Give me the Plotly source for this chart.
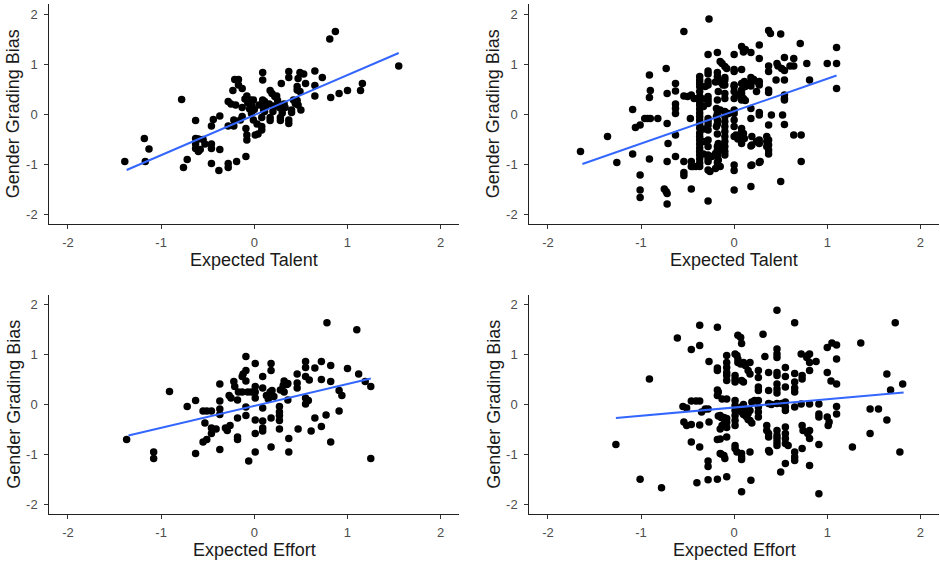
import plotly.graph_objects as go

# ---------------- data ----------------
tick_vals = [-2, -1, 0, 1, 2]
tick_text = ["-2", "-1", "0", "1", "2"]
x_titles = ["Expected Talent", "Expected Talent", "Expected Effort", "Expected Effort"]
y_title = "Gender Grading Bias"

# Panel 1: Expected Talent (left)
p1 = [(-1.39,-0.95),(-1.18,-0.49),(-1.13,-0.70),(-1.17,-0.95),(-0.78,0.29),(-0.76,-1.07),(-0.72,-0.91),(-0.63,-0.13),
      (-0.63,-0.49),(-0.63,-0.60),(-0.63,-0.69),(-0.60,-0.75),(-0.55,-0.51),(-0.53,-0.60),(-0.46,-0.60),(-0.46,-0.69),(-0.58,-0.71),(-0.60,-0.50),
      (-0.44,-0.11),(-0.37,-0.04),(-0.46,-0.24),(-0.37,-0.71),(-0.46,-0.99),(-0.38,-1.13),(-0.28,-0.99),(-0.28,-1.07),(-0.19,-0.95),(-0.09,-0.85),
      (-0.21,0.69),(-0.17,0.69),(-0.17,0.58),(-0.13,0.51),(-0.28,0.25),(-0.23,0.47),(-0.25,0.20),(-0.20,0.18),
      (-0.08,0.36),(-0.04,0.28),(-0.13,0.13),(-0.10,0.30),(-0.07,0.22),(-0.03,0.18),
      (-0.22,-0.12),(-0.22,-0.24),(-0.28,-0.24),(-0.15,-0.12),(-0.13,-0.05),(-0.09,-0.29),(-0.08,-0.42),(-0.08,-0.52),
      (-0.01,-0.12),(0.01,-0.42),(0.04,-0.40),(0.08,-0.25),(0.08,-0.32),(0.09,0.83),(0.09,0.68),(0.09,0.28),(0.11,0.25),
      (0.10,0.08),(0.11,0.05),(0.08,-0.07),(-0.01,0.28),(0.00,0.09),(-0.03,0.01),(0.03,-0.20),
      (0.17,0.47),(0.19,0.41),(0.22,0.35),(0.24,0.36),(0.17,-0.07),(0.17,-0.13),(0.28,-0.07),(0.28,-0.13),(0.29,0.61),
      (0.27,0.13),(0.29,0.11),(0.33,0.13),(0.16,0.20),(0.21,0.16),
      (0.37,0.85),(0.37,0.73),(0.37,-0.12),(0.37,-0.19),(0.40,0.08),(0.42,0.28),(0.44,0.21),(0.46,0.27),(0.47,0.18),
      (0.46,0.55),(0.46,0.48),(0.47,0.71),(0.49,0.83),(0.53,0.80),(0.55,0.61),(0.49,0.45),(0.50,0.08),(0.40,0.03),
      (0.65,0.86),(0.65,0.57),(0.65,0.36),(0.73,0.73),(0.81,1.50),(0.87,1.65),(0.82,0.33),(0.91,0.41),(1.00,0.47),
      (1.14,0.47),(1.16,0.61),(1.55,0.96),
      (0.12,0.15),(0.20,0.05),(0.05,0.18),(-0.05,0.10),(0.32,0.20),(0.30,0.02),(0.25,0.27)]
talent_a_x = [p[0] for p in p1]
talent_a_y = [p[1] for p in p1]

# Panel 2: Expected Talent (right)
p2 = [(-1.65,-0.75),(-1.36,-0.45),(-1.26,-0.97),(-1.09,0.09),(-1.09,-0.80),(-1.06,-0.27),(-1.01,-0.22),(-1.01,-1.22),(-1.01,-1.52),(-1.01,-1.67),
      (-0.96,-0.09),(-0.93,-0.09),(-0.90,-0.09),(-0.91,0.78),(-0.90,0.47),(-0.91,0.33),(-0.91,-0.90),(-0.82,-0.09),
      (-0.73,0.91),(-0.72,0.41),(-0.72,-0.19),(-0.71,-0.59),(-0.72,-0.95),(-0.75,-1.50),(-0.73,-1.55),(-0.72,-1.59),(-0.72,-1.80),
      (-0.63,0.61),(-0.63,0.46),(-0.63,0.20),(-0.63,0.11),(-0.63,0.01),(-0.63,-0.42),(-0.63,-0.85),
      (-0.54,1.65),(-0.54,0.36),(-0.50,0.35),(-0.54,-0.95),(-0.54,-1.17),(-0.54,-1.23),(-0.46,-1.50),
      (-0.47,-0.09),(-0.46,0.38),(-0.43,0.31),(-0.46,-0.95),(-0.46,-1.05),(-0.44,-1.05),(-0.41,-1.05),
      # dense column near -0.37
      (-0.37,0.75),(-0.37,0.68),(-0.37,0.62),(-0.37,0.55),(-0.37,0.45),(-0.37,0.35),(-0.37,0.25),(-0.37,0.18),(-0.37,0.10),
      (-0.37,0.02),(-0.37,-0.05),(-0.37,-0.12),(-0.37,-0.20),(-0.37,-0.28),(-0.37,-0.38),(-0.37,-0.45),(-0.37,-0.52),
      (-0.37,-0.60),(-0.37,-0.68),(-0.37,-0.75),(-0.37,-0.82),(-0.37,-0.90),(-0.37,-0.98),(-0.37,-1.05),
      (-0.33,0.30),(-0.33,0.15),(-0.33,-0.30),(-0.33,-0.55),(-0.33,-0.80),(-0.31,0.55),
      # column near -0.28
      (-0.27,1.90),(-0.28,1.19),(-0.28,0.86),(-0.28,0.80),(-0.28,0.65),(-0.28,0.58),(-0.28,0.35),(-0.28,0.28),(-0.28,0.21),
      (-0.28,-0.09),(-0.28,-0.15),(-0.28,-0.22),(-0.28,-0.32),(-0.28,-0.52),(-0.28,-0.65),(-0.28,-0.82),(-0.28,-0.89),
      (-0.28,-0.95),(-0.28,-1.12),(-0.26,-1.15),(-0.28,-1.74),
      # column near -0.18
      (-0.18,1.23),(-0.18,0.83),(-0.18,0.75),(-0.17,0.68),(-0.17,0.45),(-0.18,0.28),(-0.18,0.01),(-0.18,-0.12),(-0.18,-0.20),
      (-0.18,-0.40),(-0.18,-0.65),(-0.18,-0.72),(-0.18,-0.79),(-0.18,-0.85),(-0.18,-0.97),(-0.18,-1.05),(-0.20,-1.09),
      # column near -0.1
      (-0.13,1.01),(-0.10,0.95),(-0.08,0.91),(-0.10,0.73),(-0.10,0.68),(-0.10,0.58),(-0.10,0.41),(-0.10,0.31),
      (-0.10,0.05),(-0.10,-0.05),(-0.10,-0.15),(-0.10,-0.25),(-0.10,-0.35),(-0.10,-0.45),(-0.10,-0.55),(-0.10,-0.65),
      (-0.10,-0.75),(-0.10,-0.82),
      # column near 0
      (0.00,1.19),(0.00,0.89),(0.00,0.85),(0.00,0.58),(0.00,0.55),(0.00,0.31),(0.00,0.01),(0.00,-0.25),(0.00,-0.45),
      (0.00,-1.02),(0.00,-1.13),(0.00,-1.52),
      # column near 0.08
      (0.08,1.35),(0.10,1.28),(0.10,1.24),(0.08,0.89),(0.08,0.61),(0.08,0.48),(0.08,0.41),(0.08,0.28),
      (0.08,-0.29),(0.08,-0.35),(0.08,-0.42),(0.08,-0.59),
      # column near 0.18
      (0.18,1.23),(0.18,0.73),(0.18,0.63),(0.18,0.56),(0.18,0.11),(0.18,-0.09),(0.18,-0.64),(0.18,-1.03),(0.18,-1.45),
      # column near 0.27
      (0.27,1.38),(0.27,1.11),(0.27,0.65),(0.27,0.58),(0.27,0.03),(0.27,-0.02),(0.27,-0.52),(0.27,-0.59),(0.27,-0.97),
      # column near 0.37
      (0.37,1.67),(0.39,1.61),(0.37,0.96),(0.37,0.85),(0.37,0.48),(0.37,0.43),(0.37,-0.22),(0.37,-0.52),(0.37,-0.62),
      (0.37,-0.72),(0.37,-0.80),
      # right side
      (0.50,1.60),(0.46,1.01),(0.47,0.96),(0.51,0.91),(0.54,0.87),(0.54,1.13),(0.54,0.68),(0.54,0.38),(0.54,0.31),
      (0.54,0.28),(0.52,-0.02),(0.54,-0.21),(0.50,-1.35),
      (0.60,0.96),(0.64,0.96),(0.64,1.11),(0.64,-0.42),(0.72,-0.42),(0.72,-0.95),(0.71,1.41),(0.78,1.01),(0.81,0.68),
      (1.00,1.01),(1.10,1.33),(1.10,1.01),(1.10,0.51),
      # between columns
      (-0.20,0.64),(-0.14,0.63),(-0.12,0.58),(-0.15,1.05),(0.12,1.29),(0.11,0.65),(0.12,0.55),(0.17,0.58),
      (0.19,0.65),(0.21,0.69),(0.26,0.63),(0.24,0.45),(0.10,0.31),(0.12,0.27),(-0.19,0.11),(-0.15,0.08),
      (-0.06,0.01),(-0.19,-0.05),(-0.19,-0.25),(0.10,-0.39),(0.11,-0.49),(0.19,-0.45),(0.19,-0.62),(0.24,-0.55),
      (0.35,-0.45),(0.35,-0.55),(0.35,-0.65),(0.28,-0.95),(0.19,-1.02),(-0.24,-0.85),(-0.20,-0.79),(-0.17,-0.59),
      (-0.15,-0.65),(-0.13,-0.72),(-0.17,-0.92),(-0.15,-1.05),(0.00,0.08),(0.00,-0.12),(0.02,-0.42),(0.04,-0.50),
      (0.00,0.45),(0.03,0.38),(0.45,0.68),(0.40,-0.02)]
talent_b_x = [p[0] for p in p2]
talent_b_y = [p[1] for p in p2]

# Panel 3: Expected Effort (left)
p3 = [(-1.37,-0.70),(-1.08,-0.95),(-1.08,-1.08),(-0.91,0.26),(-0.72,-0.04),(-0.63,0.08),(-0.63,-0.98),
      (-0.55,-0.13),(-0.51,-0.13),(-0.46,-0.13),(-0.53,-0.37),(-0.46,-0.47),(-0.46,-0.58),(-0.55,-0.75),(-0.51,-0.70),
      (-0.37,0.41),(-0.37,0.07),(-0.37,-0.09),(-0.37,-0.20),(-0.37,-0.90),(-0.31,-0.47),(-0.29,-0.52),(-0.26,-0.42),
      (-0.27,0.18),(-0.25,0.13),(-0.22,0.46),(-0.21,0.36),(-0.18,0.09),(-0.17,0.25),(-0.18,-0.27),(-0.18,-0.65),(-0.18,-0.70),
      (-0.13,0.56),(-0.12,0.61),(-0.09,0.68),(-0.09,0.96),(-0.09,0.47),(-0.13,0.25),(-0.07,0.25),(-0.03,0.25),
      (-0.09,-0.05),(-0.09,-0.22),(-0.06,-1.13),
      (0.01,0.82),(0.01,0.36),(0.01,0.25),(0.01,0.13),(0.01,-0.31),(0.01,-0.58),(0.01,-0.95),
      (0.09,0.56),(0.09,0.33),(0.09,-0.07),(0.09,-0.33),(0.09,-0.47),(0.09,-0.53),
      (0.13,0.18),(0.17,0.25),(0.15,0.11),(0.18,0.82),(0.18,0.68),(0.19,0.28),(0.21,0.16),(0.18,-0.27),(0.18,-0.85),
      (0.27,-0.04),(0.27,-0.15),(0.27,-0.22),(0.27,-0.32),(0.27,-0.49),(0.28,0.29),(0.31,0.38),(0.32,0.47),(0.35,0.40),
      (0.36,0.42),(0.32,0.25),(0.36,0.09),(0.37,-0.68),(0.37,-0.95),
      (0.46,0.61),(0.46,0.43),(0.46,0.33),(0.47,-0.49),(0.55,0.86),(0.55,0.74),(0.55,0.56),(0.55,0.13),(0.58,0.08),
      (0.55,0.01),(0.59,0.49),(0.61,-0.53),(0.65,0.73),(0.65,-0.27),
      (0.72,0.86),(0.72,0.50),(0.72,-0.44),(0.78,1.64),(0.82,0.78),(0.82,0.46),(0.82,-0.75),(0.91,0.28),(0.94,0.18),
      (0.91,-0.13),(1.00,0.72),(1.10,1.50),(1.12,0.61),(1.19,0.46),(1.25,0.36),(1.25,-1.08),(0.77,-0.21),(-0.41,-0.49)]
effort_a_x = [p[0] for p in p3]
effort_a_y = [p[1] for p in p3]

# Panel 4: Expected Effort (right)
p4 = [(-1.27,-0.80),(-0.91,0.51),(-1.01,-1.50),(-0.78,-1.67),(-0.61,1.33),(-0.46,1.10),(-0.37,1.59),(-0.37,1.18),
      (-0.27,0.86),(-0.18,1.55),(-0.18,0.73),(-0.18,0.29),(-0.17,0.25),
      (-0.55,-0.04),(-0.51,-0.07),(-0.46,0.07),(-0.41,0.07),(-0.37,0.07),(-0.35,-0.15),(-0.31,-0.09),(-0.28,-0.09),
      (-0.54,-0.35),(-0.51,-0.42),(-0.46,-0.40),(-0.37,-0.41),(-0.27,-0.35),
      (-0.46,-0.75),(-0.37,-0.85),(-0.28,-1.13),(-0.28,-1.24),(-0.40,-1.57),(-0.28,-1.51),(-0.18,-1.50),(-0.18,-0.70),(-0.15,-0.98),
      (0.46,1.89),(0.65,1.64),(0.31,1.41),(0.04,1.39),(0.07,1.34),(0.08,1.22),(-0.08,0.98),(-0.18,0.68),(-0.18,0.18),
      (-0.08,0.84),(-0.08,0.74),(-0.08,0.64),(-0.08,0.58),(-0.08,0.48),
      (0.01,1.01),(0.03,0.98),(0.04,0.91),(0.04,0.84),(0.07,0.81),(0.01,0.58),(0.01,0.51),(0.01,0.45),
      (0.10,0.84),(0.12,0.78),(0.15,0.68),(0.17,0.61),(0.08,0.48),(0.10,0.45),(0.17,0.84),
      (0.26,0.68),(0.26,0.54),(0.26,0.35),(0.26,0.28),(0.33,0.96),(0.37,0.64),(0.37,0.28),
      (0.46,1.11),(0.46,1.01),(0.46,0.94),(0.46,0.64),(0.46,0.58),(0.46,0.41),(0.46,0.31),(0.46,0.23),
      (0.55,0.74),(0.55,0.56),(0.55,0.35),(0.65,0.62),(0.65,0.45),(0.65,0.33),(0.65,0.25),(0.73,0.58),(0.73,0.51),
      (0.72,1.01),(0.78,0.94),
      (-0.13,0.11),(-0.08,0.11),(-0.15,-0.22),(-0.11,-0.26),
      (0.01,0.08),(0.01,-0.02),(0.01,-0.12),(0.01,-0.22),(0.01,-0.32),(0.01,-0.42),
      (0.08,-0.05),(0.12,-0.10),(0.13,-0.14),(0.15,-0.18),(0.17,-0.12),(0.10,-0.20),(0.13,-0.24),(0.15,-0.30),
      (0.08,-0.15),(0.10,0.00),(0.06,-0.08),
      (0.19,0.05),(0.22,0.08),(0.26,0.08),(0.26,-0.05),(0.26,-0.15),(0.26,-0.25),
      (0.37,0.02),(0.40,0.00),(0.46,0.02),(0.51,0.02),(0.55,0.05),(0.55,-0.05),(0.55,-0.12),
      (0.17,-0.32),(0.19,-0.37),
      (-0.13,-0.42),(-0.15,-0.49),(-0.08,-0.65),(-0.11,-1.02),(-0.10,-1.08),(-0.08,-1.45),
      (0.01,-0.82),(0.01,-0.88),(0.03,-0.95),(0.08,-0.98),(0.08,-1.05),(0.08,-1.10),(0.08,-1.75),(0.17,-0.95),(0.18,-1.52),
      (0.35,-0.42),(0.35,-0.52),(0.37,-0.58),(0.37,-0.65),(0.37,-0.92),(0.38,-0.95),
      (0.46,-0.52),(0.46,-0.62),(0.46,-0.68),(0.46,-0.75),(0.46,-0.82),(0.50,-1.35),(0.55,-1.18),
      (0.55,-0.45),(0.55,-0.58),(0.55,-0.68),(0.55,-0.78),(0.58,-0.82),
      (0.65,-0.95),(0.65,-1.05),(0.65,-1.12),(0.73,-0.42),(0.74,-0.52),(0.73,-0.88),(0.81,-0.68),(0.81,-1.22),
      (-0.17,-0.23),(-0.14,-0.26),(-0.11,-0.29),(-0.08,-0.36),(-0.08,-0.46),(-0.15,-0.69),(-0.14,-0.99),(-0.08,-0.28),
      (0.81,1.01),(0.79,0.98),(0.81,0.84),(0.88,0.86),(0.81,0.68),(1.00,1.14),(1.05,1.23),(1.10,1.19),(1.10,0.91),
      (1.00,0.64),(1.04,0.47),(1.10,0.41),(1.36,1.23),(1.73,1.64),(1.64,0.61),(1.68,0.29),(1.81,0.41),
      (0.81,0.01),(0.91,0.01),(0.91,-0.19),(0.91,-0.25),(1.00,-0.25),(1.02,-0.35),(1.01,-0.42),(1.10,-0.04),(1.10,-0.19),
      (1.46,-0.09),(1.55,-0.09),(1.64,-0.31),(1.46,-0.58),(0.81,-0.52),(0.79,-0.58),(0.91,-0.80),(1.27,-0.85),
      (1.78,-0.95),(0.91,-1.79),(0.72,0.01),(0.65,-0.05)]
effort_b_x = [p[0] for p in p4]
effort_b_y = [p[1] for p in p4]

# fitted regression lines (endpoints)
fit_x = [[-1.37, 1.55], [-1.63, 1.10], [-1.35, 1.25], [-1.27, 1.82]]
fit_y = [[-1.12, 1.22], [-1.00, 0.77], [-0.62, 0.52], [-0.27, 0.24]]

# ---------------- figure ----------------
W, H = 940, 562
panels = [
    (talent_a_x, talent_a_y),
    (talent_b_x, talent_b_y),
    (effort_a_x, effort_a_y),
    (effort_b_x, effort_b_y),
]
# plot-area pixel boxes (left, right, top, bottom)
boxes = [(49.3, 459.3, 4, 224), (529.3, 939, 4, 224),
         (49.3, 459.3, 294.7, 514.3), (529.3, 939, 294.7, 514.3)]

fig = go.Figure()
tick_font = dict(family="Liberation Sans, Arial, sans-serif", size=13, color="#4D4D4D")
title_font = dict(family="Liberation Sans, Arial, sans-serif", size=18, color="#1a1a1a")

for i, ((px, py), (l, r, t, b)) in enumerate(zip(panels, boxes)):
    n = "" if i == 0 else str(i + 1)
    xa, ya = "x" + n, "y" + n
    fig.add_trace(go.Scatter(x=px, y=py, mode="markers", xaxis=xa, yaxis=ya,
                             marker=dict(color="black", size=7.5, line=dict(width=0)),
                             showlegend=False, hoverinfo="skip"))
    fig.add_trace(go.Scatter(x=fit_x[i], y=fit_y[i], mode="lines", xaxis=xa, yaxis=ya,
                             line=dict(color="#3366FF", width=2),
                             showlegend=False, hoverinfo="skip"))
    common = dict(range=[-2.2, 2.2], tickvals=tick_vals, ticktext=tick_text,
                  showgrid=False, zeroline=False, showline=True, linecolor="#222222",
                  linewidth=1.1, ticks="outside", ticklen=4, tickcolor="#333333",
                  tickwidth=1, tickfont=tick_font, fixedrange=True)
    fig.layout["xaxis" + n] = dict(domain=[l / W, r / W], anchor=ya, ticklabelstandoff=2, **common)
    fig.layout["yaxis" + n] = dict(domain=[1 - b / H, 1 - t / H], anchor=xa, ticklabelstandoff=4, **common)
    # axis titles
    fig.add_annotation(text=x_titles[i], xref="paper", yref="paper",
                       x=(l + r) / 2 / W, y=1 - (b + 36) / H, showarrow=False,
                       xanchor="center", yanchor="middle", font=title_font)
    fig.add_annotation(text=y_title, xref="paper", yref="paper",
                       x=(l - 36) / W, y=1 - (t + b) / 2 / H, showarrow=False, textangle=-90,
                       xanchor="center", yanchor="middle", font=title_font)

fig.update_layout(width=W, height=H, margin=dict(l=0, r=0, t=0, b=0),
                  paper_bgcolor="white", plot_bgcolor="white")
fig.write_html("out.html", config={"displayModeBar": False},
               post_script="document.body.style.margin='0';document.body.style.padding='0';")
